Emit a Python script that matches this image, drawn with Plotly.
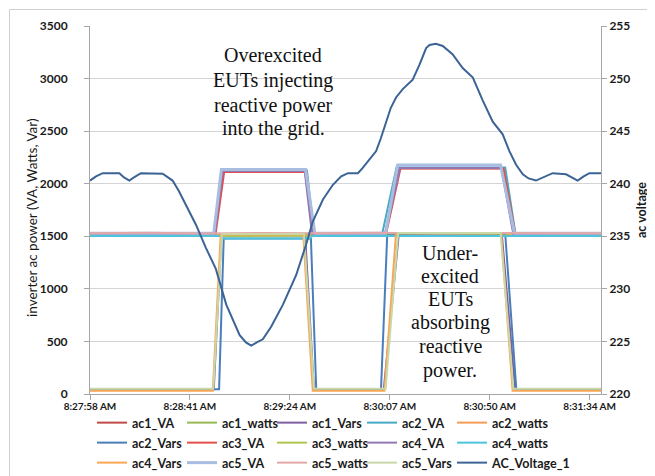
import plotly.graph_objects as go

# ---------------- data (time = seconds after 8:27:58 AM) ----------------
tick_seconds = [0, 43.2, 86.4, 129.6, 172.8, 216.0]
tick_labels = ["8:27:58 AM", "8:28:41 AM", "8:29:24 AM", "8:30:07 AM", "8:30:50 AM", "8:31:34 AM"]

# apparent power (VA)
ac1_VA_t = [0, 54.0, 57.6, 93.0, 96.4, 127.5, 133.8, 178.5, 183.2, 220.9]
ac1_VA = [1522, 1522, 2118, 2118, 1522, 1522, 2148, 2148, 1522, 1522]
ac2_VA_t = [0, 53.6, 57.0, 93.8, 96.8, 126.2, 132.5, 179.5, 184.0, 220.9]
ac2_VA = [1512, 1512, 2125, 2125, 1512, 1512, 2155, 2155, 1512, 1512]
ac3_VA_t = [0, 54.3, 58.0, 93.5, 96.8, 128.0, 134.2, 178.8, 183.8, 220.9]
ac3_VA = [1525, 1525, 2112, 2112, 1525, 1525, 2145, 2145, 1525, 1525]
ac4_VA_t = [0, 54.0, 57.3, 92.8, 96.0, 127.6, 134.0, 177.8, 183.0, 220.9]
ac4_VA = [1520, 1520, 2122, 2122, 1520, 1520, 2150, 2150, 1520, 1520]
ac5_VA_t = [0, 53.5, 56.8, 93.2, 97.2, 127.8, 133.0, 177.5, 183.5, 220.9]
ac5_VA = [1530, 1530, 2135, 2135, 1530, 1530, 2178, 2178, 1530, 1530]

# real power (watts)
ac1_watts_t = [0, 30, 60, 90, 120, 150, 180, 220.9]
ac1_watts = [1508, 1512, 1506, 1510, 1508, 1512, 1507, 1510]
ac2_watts_t = [0, 40, 80, 120, 160, 200, 220.9]
ac2_watts = [1512, 1510, 1514, 1511, 1513, 1510, 1512]
ac3_watts_t = [0, 35, 70, 105, 140, 175, 220.9]
ac3_watts = [1505, 1509, 1504, 1508, 1505, 1509, 1506]
ac4_watts_t = [0, 56.5, 57.5, 95.0, 96.0, 220.9]
ac4_watts = [1502, 1502, 1480, 1480, 1502, 1502]
ac5_watts_t = [0, 25, 50, 75, 100, 125, 150, 175, 200, 220.9]
ac5_watts = [1528, 1533, 1527, 1532, 1528, 1533, 1527, 1532, 1528, 1530]

# reactive power (Vars)
ac1_Vars_t = [0, 53.5, 56.8, 93.0, 96.8, 127.0, 133.5, 178.0, 183.8, 220.9]
ac1_Vars = [42, 42, 1512, 1512, 42, 42, 1525, 1525, 42, 42]
ac2_Vars_t = [0, 55.8, 57.8, 95.5, 97.8, 125.8, 128.5, 179.5, 184.3, 220.9]
ac2_Vars = [45, 45, 1478, 1478, 45, 45, 1520, 1520, 45, 45]
ac4_Vars_t = [0, 53.1, 56.5, 92.2, 96.3, 127.3, 132.3, 177.7, 182.7, 220.9]
ac4_Vars = [30, 30, 1518, 1518, 30, 30, 1530, 1530, 30, 30]
ac5_Vars_t = [0, 53.3, 57.0, 92.5, 96.8, 127.8, 133.2, 177.5, 183.0, 220.9]
ac5_Vars = [50, 50, 1522, 1522, 50, 50, 1532, 1532, 50, 50]

# grid voltage (secondary axis)
volt_t = [0, 2.6, 5.5, 12.7, 14.7, 17.0, 19.0, 22.0, 31.4, 33.7, 35.7, 38.4, 41.5, 45.8,
          50.1, 54.4, 58.9, 64.7, 67.4, 69.7, 72.1, 74.7, 78.3, 83.4, 89.1, 93.4, 96.3,
          100.7, 105.0, 108.6, 111.5, 115.8, 117.9, 120.5, 123.7, 125.7, 128.0, 130.0,
          132.3, 135.2, 139.5, 142.4, 145.3, 146.8, 149.5, 152.5, 156.8, 161.1, 165.5,
          169.8, 174.1, 178.4, 181.3, 184.2, 187.1, 189.6, 192.8, 196.1, 200.0, 205.8,
          208.2, 210.8, 213.4, 215.9, 220.9]
volt = [240.3, 240.7, 241.0, 241.0, 240.6, 240.3, 240.6, 241.0, 240.95, 240.6, 240.3, 239.3,
        238.0, 236.1, 233.9, 231.9, 228.5, 225.6, 224.9, 224.6, 224.9, 225.2, 226.4, 228.5,
        231.3, 234.2, 236.4, 238.5, 239.9, 240.7, 241.0, 241.0, 241.5, 242.2, 243.1, 244.3,
        245.9, 247.2, 248.2, 249.0, 249.9, 251.3, 252.9, 253.2, 253.3, 253.1, 252.3, 251.0,
        250.1, 247.9, 245.9, 244.7, 243.1, 241.8, 240.9, 240.5, 240.3, 240.6, 241.0, 240.9,
        240.6, 240.3, 240.7, 241.0, 241.0]

series = [
    ("ac1_VA", ac1_VA_t, ac1_VA, "#BE4B48", 2, "legend"),
    ("ac1_watts", ac1_watts_t, ac1_watts, "#98B954", 2, "legend"),
    ("ac1_Vars", ac1_Vars_t, ac1_Vars, "#7D60A0", 2, "legend"),
    ("ac2_VA", ac2_VA_t, ac2_VA, "#46AAC5", 2, "legend"),
    ("ac2_watts", ac2_watts_t, ac2_watts, "#F59D56", 2, "legend"),
    ("ac2_Vars", ac2_Vars_t, ac2_Vars, "#4A7EBB", 2, "legend2"),
    ("ac3_VA", ac3_VA_t, ac3_VA, "#E0504C", 2, "legend2"),
    ("ac3_watts", ac3_watts_t, ac3_watts, "#AFC64E", 2, "legend2"),
    ("ac4_VA", ac4_VA_t, ac4_VA, "#9277B5", 2, "legend2"),
    ("ac4_watts", ac4_watts_t, ac4_watts, "#4DC3DC", 2, "legend2"),
    ("ac4_Vars", ac4_Vars_t, ac4_Vars, "#F9A653", 2, "legend3"),
    ("ac5_VA", ac5_VA_t, ac5_VA, "#A8BDE0", 3, "legend3"),
    ("ac5_watts", ac5_watts_t, ac5_watts, "#E3A8A6", 2, "legend3"),
    ("ac5_Vars", ac5_Vars_t, ac5_Vars, "#C9D8A6", 2, "legend3"),
]

fig = go.Figure()
for i, (name, t, v, col, w, leg) in enumerate(series):
    fig.add_trace(go.Scatter(x=t, y=v, name=name, mode="lines",
                             line=dict(color=col, width=w), legend=leg,
                             legendwidth=(110 if i % 5 == 4 else 45)))
fig.add_trace(go.Scatter(x=volt_t, y=volt, name="AC_Voltage_1", mode="lines",
                         line=dict(color="#3B6395", width=2), yaxis="y2", legend="legend3",
                         legendwidth=110))

# ---------------- layout ----------------
W, H = 655, 476
PL, PT, PW, PH = 82, 18, 511, 368


def px_x(x):
    return (x - PL) / PW


def px_y(y):
    return (PT + PH - y) / PH


TICKFONT = dict(family="Lato", size=12, color="#1a1a1a", weight="bold")
XTICKFONT = dict(family="Lato", size=10, color="#1a1a1a", weight="bold")
AXCOL = "#A6A6A6"
GRID = "#D4D4D4"

legend_common = dict(orientation="h", entrywidthmode="pixels",
                     xanchor="left", yanchor="middle", bgcolor="rgba(0,0,0,0)",
                     font=dict(family="Lato", size=12.5, color="#1a1a1a", weight="bold"),
                     itemwidth=30, tracegroupgap=0)

annotations = []
for txt, y in zip(["Overexcited", "EUTs injecting", "reactive power", "into the grid."],
                  [47, 72, 97, 121]):
    annotations.append(dict(text=txt, x=px_x(265), y=px_y(y), xref="paper", yref="paper",
                            xanchor="center", yanchor="middle", showarrow=False,
                            font=dict(family="Liberation Serif", size=20, color="#111111")))
for txt, y in zip(["Under-", "excited", "EUTs", "absorbing", "reactive", "power."],
                  [245, 268, 291, 314, 338, 362]):
    annotations.append(dict(text=txt, x=px_x(442), y=px_y(y), xref="paper", yref="paper",
                            xanchor="center", yanchor="middle", showarrow=False,
                            font=dict(family="Liberation Serif", size=20, color="#111111")))
annotations.append(dict(text="inverter ac power (VA, Watts, Var)", x=px_x(24), y=px_y(210),
                        xref="paper", yref="paper", textangle=-90, showarrow=False,
                        xanchor="center", yanchor="middle",
                        font=dict(family="Lato", size=13.5, color="#1a1a1a")))

fig.update_layout(
    width=W, height=H,
    margin=dict(l=PL, r=W - PL - PW, t=PT, b=H - PT - PH, autoexpand=False),
    paper_bgcolor="white", plot_bgcolor="white",
    showlegend=True,
    xaxis=dict(range=[0, 220.9], tickvals=tick_seconds, ticktext=tick_labels,
               showgrid=False, zeroline=False, showline=True, linecolor=AXCOL, linewidth=1,
               ticks="outside", ticklen=5, tickcolor=AXCOL, tickfont=XTICKFONT,
               ticklabelstandoff=-2),
    yaxis=dict(range=[0, 3500], dtick=500, showgrid=True, gridcolor=GRID, gridwidth=1,
               zeroline=False, showline=True, linecolor=AXCOL, linewidth=1,
               ticks="outside", ticklen=5, tickcolor=AXCOL, tickfont=TICKFONT,
               ticklabelstandoff=14),
    yaxis2=dict(range=[220, 255], dtick=5, overlaying="y", side="right", showgrid=False,
                zeroline=False, showline=True, linecolor=AXCOL, linewidth=1,
                ticks="outside", ticklen=5, tickcolor=AXCOL, tickfont=TICKFONT,
                title=dict(text="ac voltage", standoff=7,
                           font=dict(family="Lato", size=12.5, color="#1a1a1a", weight="bold"))),
    legend=dict(legend_common, x=px_x(84), y=px_y(415)),
    legend2=dict(legend_common, x=px_x(84), y=px_y(435)),
    legend3=dict(legend_common, x=px_x(84), y=px_y(455)),
    annotations=annotations,
    shapes=[dict(type="rect", xref="paper", yref="paper",
                 x0=px_x(1.5), x1=px_x(653.5), y0=px_y(474.5), y1=px_y(1.5),
                 line=dict(color="#D0D0D0", width=1), fillcolor="rgba(0,0,0,0)", layer="below")],
)

fig.write_html("out.html")
